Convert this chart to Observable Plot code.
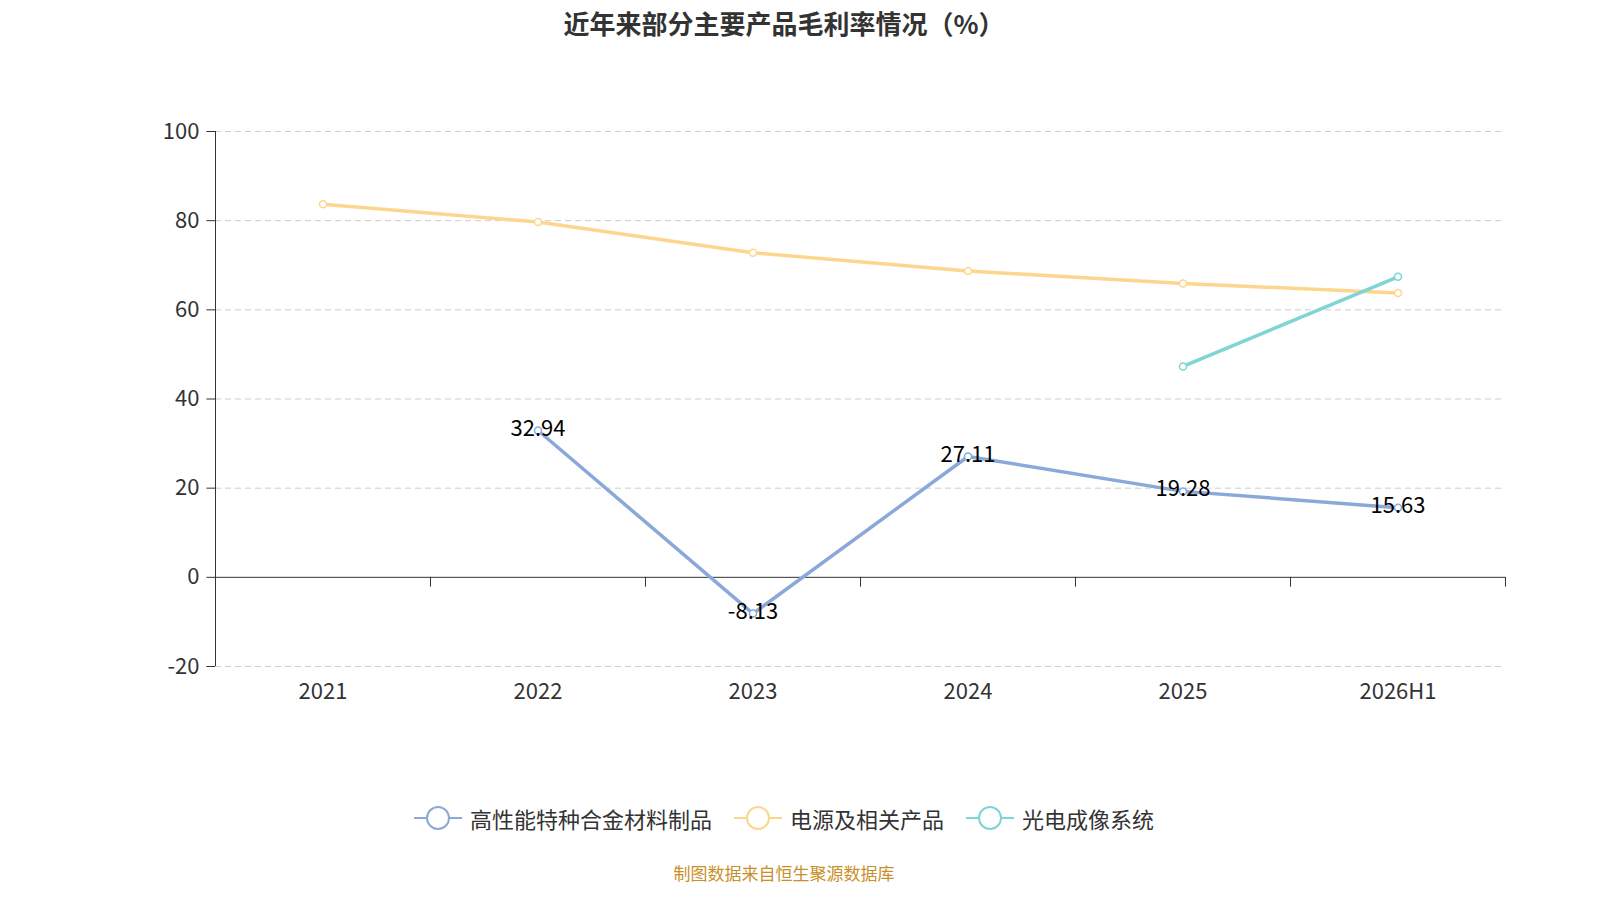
<!DOCTYPE html>
<html><head><meta charset="utf-8">
<script src="https://cdn.jsdelivr.net/npm/d3@7"></script>
<script src="https://cdn.jsdelivr.net/npm/@observablehq/plot@0.6"></script>
<style>
body{margin:0;width:1600px;height:900px;background:#fff;font-family:"Noto Sans CJK SC","Noto Sans",sans-serif;position:relative}
#title{position:absolute;top:4px;left:0;width:1568px;text-align:center;font-size:26px;font-weight:bold;color:#333}
#chart{position:absolute;top:0;left:0}
#legend{position:absolute;top:802px;left:0;width:1568px;display:flex;justify-content:center;gap:22px;font-size:22px;color:#333}
.li{display:flex;align-items:center;gap:8px}
#cap{position:absolute;top:860px;left:0;width:1568px;text-align:center;font-size:17px;color:#c8902a}
</style></head><body>
<div id="title">近年来部分主要产品毛利率情况（%）</div>
<div id="chart"></div>
<div id="legend"></div>
<div id="cap">制图数据来自恒生聚源数据库</div>
<script>
const years=["2021","2022","2023","2024","2025","2026H1"];
const alloy=[null,32.94,-8.13,27.11,19.28,15.63];
const power=[83.7,79.7,72.8,68.7,65.9,63.8];
const photo=[null,null,null,null,47.3,67.4];
const names=["高性能特种合金材料制品","电源及相关产品","光电成像系统"];
const colors=["#8aa9d9","#fdd68e","#7fd4d4"];
const yTicks=[-20,0,20,40,60,80,100];
const series=[alloy,power,photo];
const rows=[];
series.forEach((s,k)=>s.forEach((v,i)=>{if(v!=null)rows.push({i,v,s:names[k]});}));
const bounds=[0.5,1.5,2.5,3.5,4.5,5.5];
const alloyRows=rows.filter(d=>d.s===names[0]);
const plot=Plot.plot({
 width:1568,height:760,marginLeft:215,marginRight:63,marginTop:131,marginBottom:94,
 style:{fontSize:"20px",fontFamily:"Noto Sans CJK SC, Noto Sans, sans-serif",color:"#333"},
 x:{type:"linear",domain:[-0.5,5.5],axis:null},
 y:{type:"linear",domain:[-20,100],axis:null},
 color:{domain:names,range:colors},
 marks:[
  Plot.ruleY(yTicks.filter(t=>t!==0),{y:d=>d,stroke:"#ccc",strokeDasharray:"6,4",strokeOpacity:1}),
  Plot.ruleY([0],{y:d=>d,stroke:"#333",strokeOpacity:1}),
  Plot.ruleX([-0.5],{x:d=>d,stroke:"#333",strokeOpacity:1}),
  Plot.ruleX(bounds,{x:d=>d,y1:()=>0,y2:()=>-2.2,stroke:"#333",strokeOpacity:1}),
  Plot.ruleY(yTicks,{y:d=>d,x1:()=>-0.5,x2:()=>-0.54,stroke:"#333",strokeOpacity:1}),
  Plot.text(yTicks,{x:()=>-0.5,y:d=>d,text:d=>String(d),textAnchor:"end",dx:-16,fill:"#333",fontSize:22}),
  Plot.text(years,{x:(d,i)=>i,y:()=>-20,text:d=>d,dy:25,fill:"#333",fontSize:22}),
  Plot.line(rows,{x:"i",y:"v",z:"s",stroke:"s",strokeWidth:3.5}),
  Plot.dot(rows,{x:"i",y:"v",stroke:"s",fill:"white",r:3.5,strokeWidth:1.5}),
  Plot.text(alloyRows,{x:"i",y:"v",text:d=>d.v.toFixed(2),fill:"#000",fontSize:22,dy:-2})
 ]});
document.getElementById("chart").appendChild(plot);
const lg=document.getElementById("legend");
names.forEach((n,k)=>{lg.insertAdjacentHTML("beforeend",`<div class="li"><svg width="48" height="30"><line x1="0" y1="15" x2="48" y2="15" stroke="${colors[k]}" stroke-width="2"/><circle cx="24" cy="15" r="11" fill="white" stroke="${colors[k]}" stroke-width="2"/></svg><span>${n}</span></div>`);});
</script></body></html>
